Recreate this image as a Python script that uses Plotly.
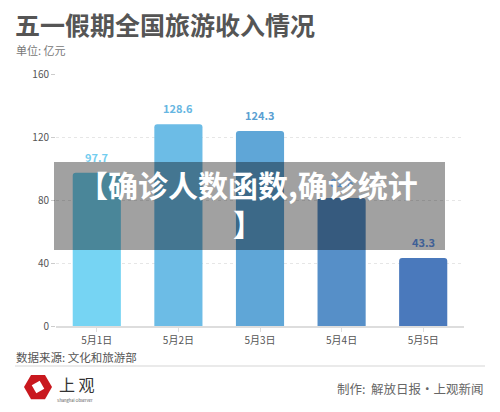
import plotly.graph_objects as go
import math

categories = ["5月1日", "5月2日", "5月3日", "5月4日", "5月5日"]
values = [97.7, 128.6, 124.3, 81.6, 43.3]
bar_colors = ["#76D4F3", "#6CBCE6", "#5FA6D7", "#568FC8", "#4A79BC"]
label_colors = ["#72CDEF", "#66B6E2", "#5A9FD2", "#4F86C0", "#3E5F96"]
y_ticks = [0, 40, 80, 120, 160]

W, H = 500, 412
L, R, T, B = 56, 36, 74, 86
pw, ph = W - L - R, H - T - B

def px(x):
    return (x - L) / pw

def py(y):
    return (H - B - y) / ph

FONT = "Noto Sans CJK SC"

fig = go.Figure()
fig.add_trace(go.Bar(
    x=categories, y=values,
    marker=dict(color=bar_colors, cornerradius=3, line=dict(width=0)),
    width=0.59,
    hoverinfo="skip",
))

annotations = []
for c, v, col in zip(categories, values, label_colors):
    annotations.append(dict(x=c, y=v, xref="x", yref="y", text=f"{v}",
                            showarrow=False, yanchor="bottom", yshift=6,
                            font=dict(family=FONT, size=11, color=col, weight=600)))

annotations += [
    dict(x=px(13), y=py(24), xref="paper", yref="paper", xanchor="left", yanchor="middle",
         text="<b>五一假期全国旅游收入情况</b>", showarrow=False,
         font=dict(family=FONT, size=25, color="#555555")),
    dict(x=px(14), y=py(50), xref="paper", yref="paper", xanchor="left", yanchor="middle",
         text="单位: 亿元", showarrow=False,
         font=dict(family=FONT, size=11, color="#777777")),
    dict(x=px(14), y=py(357), xref="paper", yref="paper", xanchor="left", yanchor="middle",
         text="数据来源: 文化和旅游部", showarrow=False,
         font=dict(family=FONT, size=11.5, color="#555555")),
    dict(x=px(486), y=py(388), xref="paper", yref="paper", xanchor="right", yanchor="middle",
         text="制作:  解放日报·上观新闻", showarrow=False,
         font=dict(family=FONT, size=12.5, color="#666666")),
    dict(x=px(57), y=py(384), xref="paper", yref="paper", xanchor="left", yanchor="middle",
         text="上 观", showarrow=False,
         font=dict(family=FONT, size=16, color="#333333")),
    dict(x=px(55), y=py(400), xref="paper", yref="paper", xanchor="left", yanchor="middle",
         text="Shanghai Observer", showarrow=False,
         font=dict(family=FONT, size=4, color="#555555")),
    dict(x=px(248), y=py(203), xref="paper", yref="paper", xanchor="center", yanchor="middle",
         text="<b>【确诊人数函数,确诊统计<br>】</b>", showarrow=False, align="center",
         font=dict(family=FONT, size=30, color="#FFFFFF")),
]

# logo hexagon
cx, cy, r = 38, 387, 14
hex_pts = [(cx + r * math.cos(math.radians(a)), cy + r * math.sin(math.radians(a))) for a in range(0, 360, 60)]
path = "M " + " L ".join(f"{px(x):.5f},{py(y):.5f}" for x, y in hex_pts) + " Z"
r2 = 6.5
sq_pts = [(cx + r2 * math.cos(math.radians(a)), cy + r2 * math.sin(math.radians(a))) for a in (15, 105, 195, 285)]
path2 = "M " + " L ".join(f"{px(x):.5f},{py(y):.5f}" for x, y in sq_pts) + " Z"

shapes = [
    dict(type="line", xref="paper", yref="paper", x0=px(15), x1=px(485), y0=py(366), y1=py(366),
         line=dict(color="#E3E3E3", width=1.5)),
    dict(type="path", xref="paper", yref="paper", path=path, fillcolor="#C9181E", line=dict(width=0)),
    dict(type="path", xref="paper", yref="paper", path=path2, fillcolor="#FFFFFF", line=dict(width=0)),
    dict(type="rect", xref="paper", yref="paper", x0=px(54), x1=px(445), y0=py(250), y1=py(162),
         fillcolor="rgba(0,0,0,0.37)", line=dict(width=0), layer="above"),
]

fig.update_layout(
    width=W, height=H,
    margin=dict(l=L, r=R, t=T, b=B),
    paper_bgcolor="white", plot_bgcolor="white",
    showlegend=False,
    bargap=0.41,
    annotations=annotations,
    shapes=shapes,
    font=dict(family=FONT),
    xaxis=dict(
        showgrid=False, showline=True, linecolor="#DDDDDD", linewidth=2,
        ticks="outside", ticklen=4, tickcolor="#DDDDDD",
        tickfont=dict(family=FONT, size=10, color="#555555"),
        fixedrange=True,
    ),
    yaxis=dict(
        range=[0, 160.6], tickvals=y_ticks,
        showgrid=True, gridcolor="#E6E6E6", griddash="dot", gridwidth=1,
        zeroline=False, showline=False,
        ticks="outside", ticklen=4, tickcolor="#CCCCCC",
        tickfont=dict(family=FONT, size=10, color="#555555"),
        fixedrange=True,
    ),
)

fig.write_html("out.html", config={"displayModeBar": False},
               post_script="document.body.style.margin='0';document.body.style.overflow='hidden';")
